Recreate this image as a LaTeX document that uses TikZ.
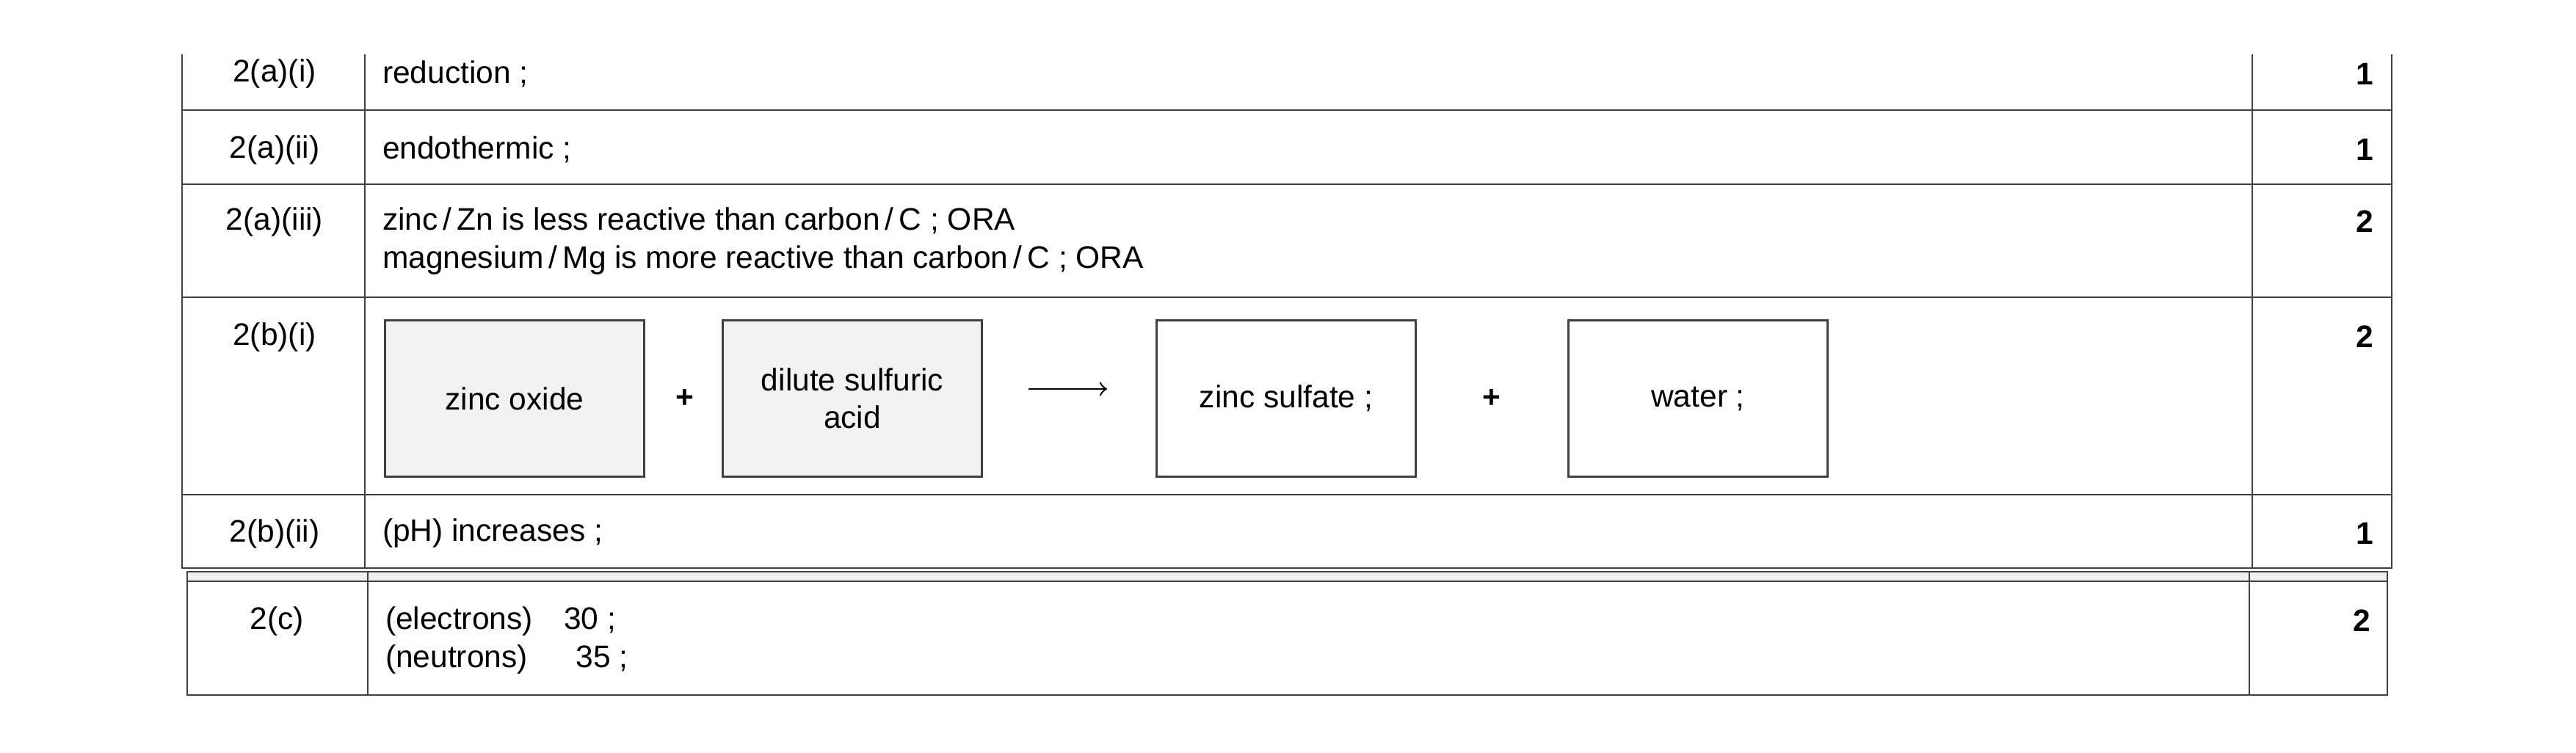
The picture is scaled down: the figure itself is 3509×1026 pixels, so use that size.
\documentclass[tikz,border=0pt]{standalone}
\usepackage{fontspec}
\setmainfont{Liberation Sans}
\begin{document}
\begin{tikzpicture}[x=0.2pt,y=-0.2pt,
  ln/.style={draw=black!75,line width=0.5pt},
  t/.style={font=\fontsize{8.5}{10.3}\selectfont,inner sep=0pt},
  lab/.style={t,anchor=center},
  txt/.style={t,anchor=west,align=left},
  mk/.style={t,anchor=east,font=\fontsize{8.5}{10.3}\selectfont\bfseries},
  bx/.style={ln,minimum width=353*0.2pt,minimum height=213*0.2pt,inner sep=0pt,align=center,font=\fontsize{8.5}{10.3}\selectfont}]
\useasboundingbox (0,0) rectangle (3509,1026);
% upper table
\draw[ln] (248,74) -- (248,774) -- (3258,774) -- (3258,74);
\draw[ln] (497,74) -- (497,774);
\draw[ln] (3068,74) -- (3068,774);
\foreach \y in {150,251,405,674} \draw[ln] (248,\y) -- (3258,\y);
% lower table
\fill[black!6] (255,779) rectangle (3252,792);
\draw[ln] (255,779) rectangle (3252,947);
\draw[ln] (255,792) -- (3252,792);
\draw[ln] (501,779) -- (501,947);
\draw[ln] (3064,779) -- (3064,947);
% rows
\node[lab] (l1) at (374,101) {2(a)(i)};
\node[txt] (t1) at (520,101) {reduction ;};
\node[mk] (m1) at (3234,101) {1};
\node[lab] (l2) at (374,204) {2(a)(ii)};
\node[txt] (t2) at (520,204) {endothermic ;};
\node[mk] (m2) at (3234,204) {1};
\node[lab] (l3) at (374,302) {2(a)(iii)};
\node[txt,anchor=north west] (t3) at (520,282) {zinc\,/\,Zn is less reactive than carbon\,/\,C ; ORA\\magnesium\,/\,Mg is more reactive than carbon\,/\,C ; ORA};
\node[mk] (m3) at (3234,302) {2};
\node[lab] (l4) at (374,459) {2(b)(i)};
\node[mk] (m4) at (3234,459) {2};
\node[bx,fill=black!5] (b1) at (701,543) {zinc oxide};
\node[bx,fill=black!5] (b2) at (1161,543) {dilute sulfuric\\acid};
\node[bx] (b3) at (1752,543) {zinc sulfate ;};
\node[bx] (b4) at (2313,543) {water ;};
\node[lab,font=\fontsize{8.5}{10.3}\selectfont\bfseries] (p1) at (933,543) {+};
\node[lab,font=\fontsize{8.5}{10.3}\selectfont\bfseries] (p2) at (2032,543) {+};
\coordinate (a1) at (1401,530); \coordinate (a2) at (1508,530);
\draw[->,line width=0.5pt] (a1) -- (a2);
\node[lab] (l5) at (374,727) {2(b)(ii)};
\node[txt] (t5) at (520,727) {(pH) increases ;};
\node[mk] (m5) at (3234,727) {1};
\node[lab] (l6) at (377,846) {2(c)};
\node[txt,anchor=north west] (t6) at (524,826) {(electrons)\quad 30 ;\\(neutrons)\quad\ \ 35 ;};
\node[mk] (m6) at (3230,846) {2};
\end{tikzpicture}
\end{document}
